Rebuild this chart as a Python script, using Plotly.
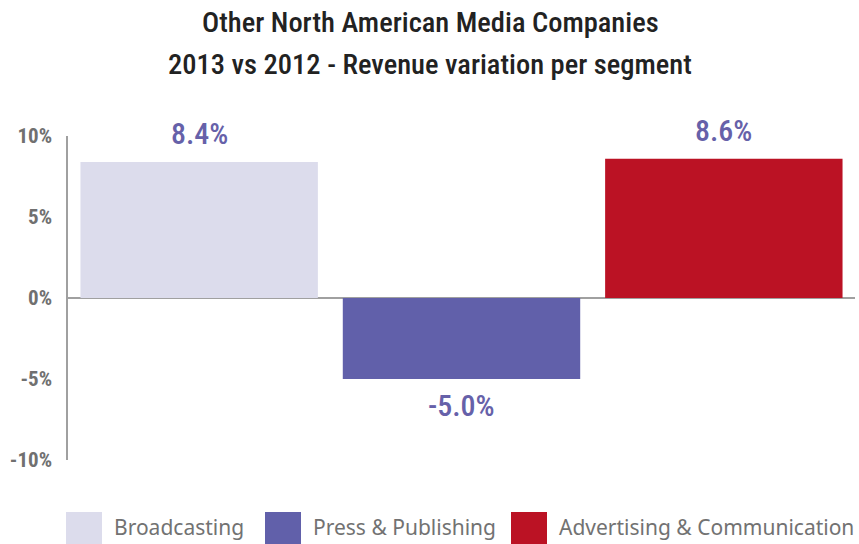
import plotly.graph_objects as go

# Revenue variation per segment, 2013 vs 2012 (%)
segments = ["Broadcasting", "Press & Publishing", "Advertising & Communication"]
variation = [8.4, -5.0, 8.6]
colors = ["#dcdcec", "#6160aa", "#bb1224"]
tick_vals = [10, 5, 0, -5, -10]
tick_text = ["10%", "5%", "0%", "-5%", "-10%"]
title_lines = ["Other North American Media Companies",
               "2013 vs 2012 - Revenue variation per segment"]

COND = "Roboto Condensed, Open Sans Condensed, sans-serif"
LABEL_COLOR = "#6661a9"

# plot area geometry (pixels) used to place paper-referenced items
PLOT_TOP, PLOT_BOTTOM, PLOT_LEFT, PLOT_RIGHT = 136, 460, 68, 855
PH = PLOT_BOTTOM - PLOT_TOP
PW = PLOT_RIGHT - PLOT_LEFT


def py(p):
    return (PLOT_BOTTOM - p) / PH


def px(p):
    return (p - PLOT_LEFT) / PW


fig = go.Figure()
fig.add_trace(go.Bar(
    x=segments,
    y=variation,
    marker=dict(color=colors, line=dict(width=0)),
    showlegend=False,
    hoverinfo="skip",
))

# Value labels above positive bars, below negative ones
for seg, v in zip(segments, variation):
    fig.add_annotation(text=f"{v:.1f}%", x=seg, y=v, xref="x", yref="y",
                       showarrow=False, yanchor="middle",
                       yshift=28 if v >= 0 else -26,
                       font=dict(family=COND, size=30, color=LABEL_COLOR, weight=500))

# Two-line title
for line, yc in zip(title_lines, [22, 65]):
    fig.add_annotation(text=line, xref="paper", yref="paper",
                       x=px(430), y=py(yc), xanchor="center", yanchor="middle",
                       showarrow=False,
                       font=dict(family=COND, size=28.5, color="#222222", weight=500))

# Legend: colour swatches with segment names below the plot
legend_x = [66, 265, 511]
for name, col, x0 in zip(segments, colors, legend_x):
    fig.add_shape(type="rect", xref="paper", yref="paper",
                  x0=px(x0), x1=px(x0 + 36), y0=py(544), y1=py(512),
                  fillcolor=col, line=dict(width=0))
    fig.add_annotation(text=name, xref="paper", yref="paper",
                       x=px(x0 + 46), y=py(527),
                       xanchor="left", yanchor="middle", showarrow=False,
                       font=dict(family="Noto Sans, Open Sans, sans-serif",
                                 size=21, color="#727272"))

fig.update_layout(
    width=859, height=544,
    margin=dict(l=PLOT_LEFT, r=859 - PLOT_RIGHT, t=PLOT_TOP, b=544 - PLOT_BOTTOM),
    paper_bgcolor="white", plot_bgcolor="white",
    bargap=0.095,
    xaxis=dict(showticklabels=False, showgrid=False, zeroline=False,
               showline=False, ticks=""),
    yaxis=dict(range=[-10, 10], tickvals=tick_vals, ticktext=tick_text,
               showgrid=False, zeroline=True, zerolinecolor="#a0a0a0",
               zerolinewidth=2, showline=True, linecolor="#a0a0a0",
               linewidth=1.5, ticks="", ticklabelstandoff=10,
               tickfont=dict(family=COND, size=21, color="#707070", weight="bold")),
)

fig.write_html("out.html")
